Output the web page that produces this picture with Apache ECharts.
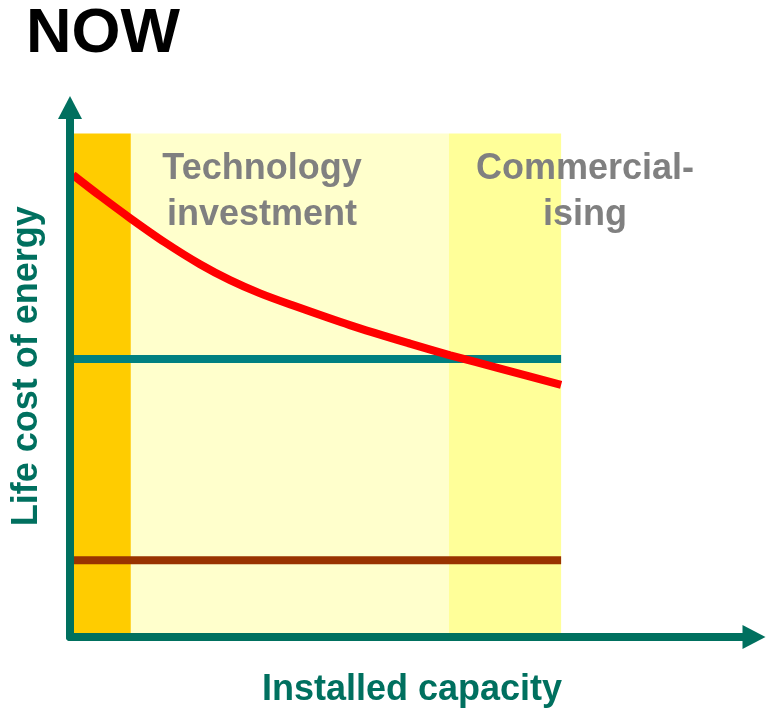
<!DOCTYPE html>
<html>
<head>
<meta charset="utf-8">
<script src="https://cdn.jsdelivr.net/npm/echarts@6/dist/echarts.min.js"></script>
<style>html,body{margin:0;padding:0;background:#fff;}#chart{width:768px;height:708px;}</style>
</head>
<body>
<div id="chart"></div>
<script>
// Data (0-100 relative units on both axes)
const curveX = [0.44, 4.4, 8.8, 13.9, 19.0, 23.4, 27.8, 32.2, 40.9, 49.7, 55.6, 62.9, 71.8];
const curveY = [87.25, 83.3, 79.1, 74.5, 70.4, 67.4, 64.9, 62.8, 58.9, 55.4, 53.2, 50.7, 47.6];
const tealLevel = 52.5;
const brownLevel = 14.5;
const lineStartX = 0.44;
const lineEndX = 71.8;
const bandEdges = [0, 8.9, 55.4, 71.8];
const bandTop = 95.1;
const bandLabels = ['Technology\ninvestment', 'Commercial-\nising'];
const bandLabelX = [262, 585];
const xName = 'Installed capacity';
const yName = 'Life cost of energy';
const titleText = 'NOW';

const FONT = '"Liberation Sans", Arial, Helvetica, sans-serif';
const TEAL_AXIS = '#00705f';
const bandColors = ['#ffcc00', '#ffffcc', '#ffff99'];

const chart = echarts.init(document.getElementById('chart'), null, {renderer: 'canvas'});

const bands = [];
for (let i = 0; i < bandEdges.length - 1; i++) {
  bands.push([
    {xAxis: bandEdges[i], yAxis: 0, itemStyle: {color: bandColors[i], opacity: 1}},
    {xAxis: bandEdges[i + 1], yAxis: bandTop}
  ]);
}

const option = {
  animation: false,
  backgroundColor: '#ffffff',
  grid: {left: 70, right: 14, top: 107.5, bottom: 71, containLabel: false, outerBoundsMode: 'none'},
  xAxis: {
    type: 'value', min: 0, max: 100, z: 10,
    name: xName, nameLocation: 'middle', nameGap: 35,
    nameTextStyle: {fontFamily: FONT, fontSize: 36, fontWeight: 'bold', color: TEAL_AXIS},
    axisLine: {show: true, onZero: false, symbol: ['none', 'triangle'], symbolSize: [24, 23],
      lineStyle: {color: TEAL_AXIS, width: 8}},
    axisTick: {show: false}, axisLabel: {show: false}, splitLine: {show: false}
  },
  yAxis: {
    type: 'value', min: 0, max: 100, z: 10,
    name: yName, nameLocation: 'middle', nameGap: 25, nameRotate: 90,
    nameTextStyle: {fontFamily: FONT, fontSize: 36, fontWeight: 'bold', color: TEAL_AXIS, padding: [0, 0, 0, 12]},
    axisLine: {show: true, onZero: false, symbol: ['none', 'triangle'], symbolSize: [24, 23],
      lineStyle: {color: TEAL_AXIS, width: 8}},
    axisTick: {show: false}, axisLabel: {show: false}, splitLine: {show: false}
  },
  series: [
    {
      type: 'line', name: 'teal', z: 3,
      data: [[lineStartX, tealLevel], [lineEndX, tealLevel]],
      symbol: 'none', lineStyle: {color: '#008080', width: 8},
      markArea: {silent: true, z: 1, label: {show: false}, data: bands}
    },
    {
      type: 'line', name: 'brown', z: 3,
      data: [[lineStartX, brownLevel], [lineEndX, brownLevel]],
      symbol: 'none', lineStyle: {color: '#993300', width: 8}
    },
    {
      type: 'line', name: 'cost', z: 4,
      data: curveX.map((x, i) => [x, curveY[i]]),
      smooth: 0.3, symbol: 'none', lineStyle: {color: '#ff0000', width: 8}
    }
  ],
  graphic: [
    {type: 'text', left: 26, top: 3, z: 20,
      style: {text: titleText, font: 'bold 63px ' + FONT, fill: '#000000'}},
    ...bandLabels.map((t, i) => ({
      type: 'text', x: bandLabelX[i], y: 146, z: 20,
      style: {text: t, font: 'bold 36px ' + FONT, fill: '#808080', align: 'center', verticalAlign: 'top', lineHeight: 46}
    }))
  ]
};
chart.setOption(option);
</script>
</body>
</html>
